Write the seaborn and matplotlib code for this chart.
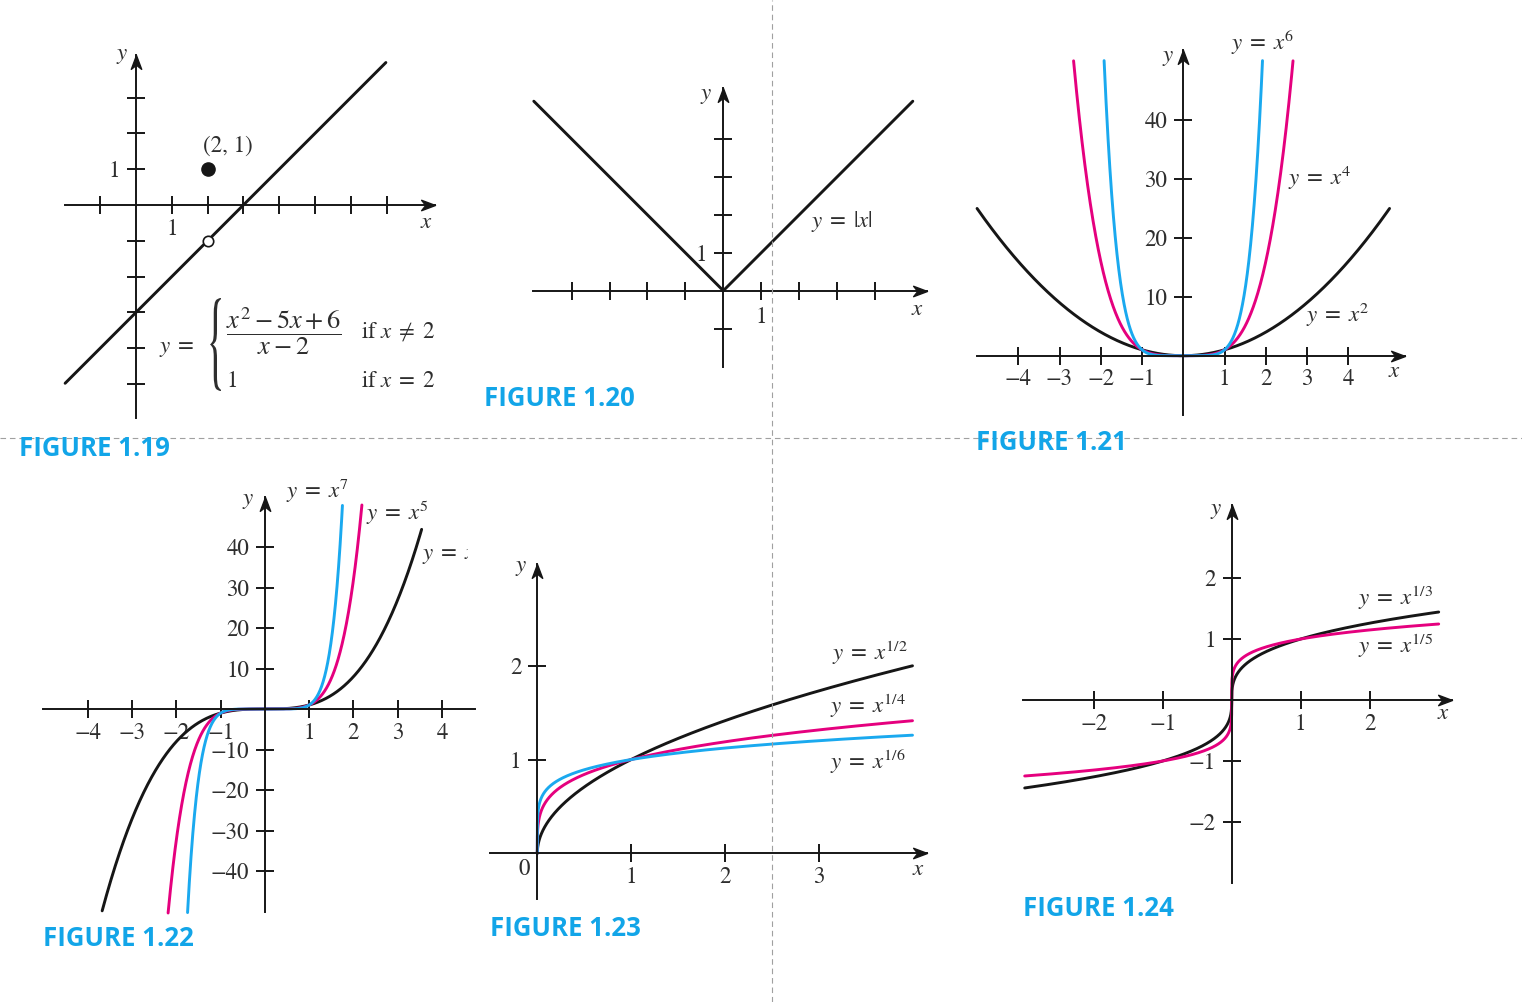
import matplotlib
matplotlib.use("Agg")
import matplotlib.pyplot as plt
import seaborn as sns
import numpy as np
from matplotlib.path import Path
from matplotlib.patches import PathPatch, Rectangle
from matplotlib.textpath import TextPath
from matplotlib.font_manager import FontProperties
from matplotlib.transforms import Affine2D
from matplotlib.lines import Line2D

W, H = 1522, 1002

BLACK   = "#161616"
MAGENTA = "#e5007e"
CYAN    = "#1aa9ef"
CAPTION = "#12a5e8"
TEXT    = "#2e2e2e"
GRID    = "#a0a0a0"

# ---- data ----
# Fig 1.19 : line y = x - 3 (hole at x = 2), isolated point (2, 1)
LINE119_X = [-1.98, 6.98]
LINE119_Y = [-4.98, 3.98]
HOLE119   = [2, -1]
DOT119    = [2, 1]
TICKS119_X = [-1, 1, 2, 3, 4, 5, 6, 7]
TICKS119_Y = [-5, -4, -3, -2, -1, 1, 2, 3]

# Fig 1.20 : y = |x|
ABS_X = [-5, 0, 5]
ABS_Y = [5, 0, 5]
TICKS120_X = [-4, -3, -2, -1, 1, 2, 3, 4]
TICKS120_Y = [-1, 1, 2, 3, 4]

# Fig 1.21 : even powers, symmetric domain (clipped at y = 50)
EVEN_POW   = [2, 4, 6]
EVEN_XMAX  = [5.0, 2.66, 1.92]
EVEN_COL   = [BLACK, MAGENTA, CYAN]
TICKS121_X = [-4, -3, -2, -1, 1, 2, 3, 4]
TICKS121_Y = [10, 20, 30, 40]

# Fig 1.22 : odd powers
ODD_POW    = [3, 5, 7]
ODD_XMIN   = [-3.68, -2.19, -1.75]
ODD_XMAX   = [3.54, 2.19, 1.75]
ODD_COL    = [BLACK, MAGENTA, CYAN]
TICKS122_X = [-4, -3, -2, -1, 1, 2, 3, 4]
TICKS122_Y = [-40, -30, -20, -10, 10, 20, 30, 40]

# Fig 1.23 : even roots on [0, 4]
ROOT123     = [2, 4, 6]
ROOT123_COL = [BLACK, MAGENTA, CYAN]
ROOT123_DOM = [0, 4]
TICKS123_X  = [1, 2, 3]
TICKS123_Y  = [1, 2]

# Fig 1.24 : odd roots on [-3, 3]
ROOT124     = [3, 5]
ROOT124_COL = [BLACK, MAGENTA]
ROOT124_DOM = [-3, 3]
TICKS124_X  = [-2, -1, 1, 2]
TICKS124_Y  = [-2, -1, 1, 2]

FS = 16.5   # serif text size


def lab(v):
    return str(v).replace("-", "\u2212")


sns.set_style("white")
plt.rcParams["font.family"] = ["STIXGeneral", "DejaVu Serif"]
plt.rcParams["mathtext.fontset"] = "stix"

fig = plt.figure(figsize=(W / 100, H / 100), dpi=100)

ARROW_R = Path([(0, 0), (-2, -0.75), (-1.4, 0), (-2, 0.75), (0, 0)],
               [Path.MOVETO, Path.LINETO, Path.LINETO, Path.LINETO, Path.CLOSEPOLY])
ARROW_U = Path([(0, 0), (-0.75, -2), (0, -1.4), (0.75, -2), (0, 0)],
               [Path.MOVETO, Path.LINETO, Path.LINETO, Path.LINETO, Path.CLOSEPOLY])


def panel(ox, oy, sx, sy, xlim, ylim):
    # ox, oy : pixel position of the origin, sx, sy : pixels per unit
    left = ox + xlim[0] * sx
    right = ox + xlim[1] * sx
    top = oy - ylim[1] * sy
    bottom = oy - ylim[0] * sy
    ax = fig.add_axes([left / W, 1 - bottom / H, (right - left) / W, (bottom - top) / H])
    ax.patch.set_visible(False)
    return ax


def style_axes(ax, xlim, ylim, xt, xl, yt, yl, arrow_x=True, arrow_y=True,
               xpad=3, ypad=5):
    ax.set_xlim(*xlim)
    ax.set_ylim(*ylim)
    for s in ["top", "right"]:
        ax.spines[s].set_visible(False)
    for s in ["left", "bottom"]:
        ax.spines[s].set_position(("data", 0))
        ax.spines[s].set_linewidth(1.4)
        ax.spines[s].set_color(BLACK)
    ax.set_xticks(xt, xl)
    ax.set_yticks(yt, yl)
    ax.tick_params(bottom=True, left=True, direction="inout", length=13, width=1.4,
                   color=BLACK, labelcolor=TEXT, labelsize=FS)
    ax.tick_params(axis="x", pad=xpad)
    ax.tick_params(axis="y", pad=ypad)
    if arrow_x:
        ax.plot([xlim[1]], [0], marker=ARROW_R, ms=20, color=BLACK, lw=0, clip_on=False)
    if arrow_y:
        ax.plot([0], [ylim[1]], marker=ARROW_U, ms=20, color=BLACK, lw=0, clip_on=False)


def ftext(X, Y, s, size=FS, ha="left", va="center", **kw):
    return fig.text(X / W, 1 - Y / H, s, size=size, ha=ha, va=va, color=TEXT, **kw)


def caption(X, Y, s):
    fig.text(X / W, 1 - Y / H, s, size=18.5, ha="left", va="center", color=CAPTION,
             family=["Open Sans", "DejaVu Sans"], weight="bold")


LW = 2.1

# ---------------- FIGURE 1.19 ----------------
xl, yl = (-1.98, 8.35), (-5.95, 4.19)
ax = panel(136, 205, 35.8, 35.8, xl, yl)
sns.lineplot(x=LINE119_X, y=LINE119_Y, ax=ax, color=BLACK, lw=LW, clip_on=False)
ax.plot([HOLE119[0]], [HOLE119[1]], "o", ms=7.5, mfc="white", mec=BLACK, mew=1.2, zorder=5)
ax.plot([DOT119[0]], [DOT119[1]], "o", ms=9.5, color=BLACK, zorder=5)
style_axes(ax, xl, yl, TICKS119_X, ["" if t != 1 else "1" for t in TICKS119_X],
           TICKS119_Y, ["" if t != 1 else "1" for t in TICKS119_Y])
ftext(122, 55, r"$y$", ha="center")
ftext(426, 222, r"$x$", ha="center")
ftext(228, 146, "(2, 1)", ha="center")
ftext(177, 348, r"$y\;=$", ha="center")
ftext(284, 331, r"$\dfrac{x^2 - 5x + 6}{x - 2}$", size=19, ha="center")
ftext(226, 381, "1")
ftext(361, 332, r"if $x\;\neq\;2$")
ftext(361, 381, r"if $x\;=\;2$")
tp = TextPath((0, 0), "{", size=1, prop=FontProperties(family="STIXGeneral"))
ext = tp.get_extents()
bx0, bx1, by0, by1 = 210, 221, 298, 391
tr = (Affine2D().translate(-ext.x0, -ext.y0)
      .scale((bx1 - bx0) / W / ext.width, (by1 - by0) / H / ext.height)
      .translate(bx0 / W, 1 - by1 / H) + fig.transFigure)
fig.add_artist(PathPatch(tp, transform=tr, color=TEXT, lw=0))
caption(19, 448, "FIGURE 1.19")

# ---------------- FIGURE 1.20 ----------------
xl, yl = (-5.01, 5.37), (-2.0, 5.34)
ax = panel(723.3, 290.7, 37.9, 37.9, xl, yl)
sns.lineplot(x=ABS_X, y=ABS_Y, ax=ax, color=BLACK, lw=LW, clip_on=False)
style_axes(ax, xl, yl, TICKS120_X, ["" if t != 1 else "1" for t in TICKS120_X],
           TICKS120_Y, ["" if t != 1 else "1" for t in TICKS120_Y], xpad=5)
ftext(706, 95, r"$y$", ha="center")
ftext(917, 309, r"$x$", ha="center")
ftext(811, 222, r"$y\;=\;|x|$")
caption(484, 398, "FIGURE 1.20")

# ---------------- FIGURE 1.21 ----------------
xl, yl = (-5.01, 5.37), (-10.07, 51.9)
ax = panel(1183.3, 355.7, 41.25, 5.89, xl, yl)
for p, xm, c in zip(EVEN_POW, EVEN_XMAX, EVEN_COL):
    xs = np.linspace(-xm, xm, 801)
    sns.lineplot(x=xs, y=xs ** p, ax=ax, color=c, lw=LW, clip_on=False, sort=False)
style_axes(ax, xl, yl, TICKS121_X, [lab(t) for t in TICKS121_X],
           TICKS121_Y, [lab(t) for t in TICKS121_Y])
ftext(1168, 57, r"$y$", ha="center")
ftext(1394, 371, r"$x$", ha="center")
ftext(1231, 42, r"$y\;=\;x^6$")
ftext(1288, 178, r"$y\;=\;x^4$")
ftext(1306, 315, r"$y\;=\;x^2$")
caption(976, 443, "FIGURE 1.21")

# ---------------- FIGURE 1.22 ----------------
xl, yl = (-5.01, 4.75), (-50.0, 52.3)
ax = panel(265, 709, 44.25, 4.05, xl, yl)
for p, x0, x1, c in zip(ODD_POW, ODD_XMIN, ODD_XMAX, ODD_COL):
    xs = np.linspace(x0, x1, 801)
    sns.lineplot(x=xs, y=xs ** p, ax=ax, color=c, lw=LW, clip_on=False, sort=False)
style_axes(ax, xl, yl, TICKS122_X, [lab(t) for t in TICKS122_X],
           TICKS122_Y, [lab(t) for t in TICKS122_Y], arrow_x=False)
ftext(248, 500, r"$y$", ha="center")
ftext(286, 491, r"$y\;=\;x^7$")
ftext(366, 513, r"$y\;=\;x^5$")
# the source image is cropped through this label
cut = ftext(422, 553, r"$y\;=\;x^3$")
cut.set_clip_path(Rectangle((400 / W, 1 - 580 / H), 68 / W, 50 / H,
                            transform=fig.transFigure))
caption(43, 938, "FIGURE 1.22")

# ---------------- FIGURE 1.23 ----------------
xl, yl = (-0.5, 4.15), (-0.49, 3.09)
ax = panel(537.3, 853.3, 93.8, 93.75, xl, yl)
for n, c in zip(ROOT123, ROOT123_COL):
    xs = ROOT123_DOM[0] + (ROOT123_DOM[1] - ROOT123_DOM[0]) * np.linspace(0, 1, 1201) ** 4
    sns.lineplot(x=xs, y=xs ** (1 / n), ax=ax, color=c, lw=LW, clip_on=False, sort=False)
style_axes(ax, xl, yl, TICKS123_X, [lab(t) for t in TICKS123_X],
           TICKS123_Y, [lab(t) for t in TICKS123_Y])
ftext(521, 567, r"$y$", ha="center")
ftext(918, 869, r"$x$", ha="center")
ftext(524, 869, "0", ha="center")
ftext(832, 653, r"$y\;=\;x^{1/2}$")
ftext(830, 706, r"$y\;=\;x^{1/4}$")
ftext(830, 761, r"$y\;=\;x^{1/6}$")
caption(490, 928, "FIGURE 1.23")

# ---------------- FIGURE 1.24 ----------------
xl, yl = (-3.02, 3.19), (-3.0, 3.2)
ax = panel(1231.7, 700, 69, 61, xl, yl)
for n, c in zip(ROOT124, ROOT124_COL):
    t = np.linspace(-1, 1, 1601)
    xs = ROOT124_DOM[1] * np.sign(t) * np.abs(t) ** 4
    sns.lineplot(x=xs, y=np.sign(xs) * np.abs(xs) ** (1 / n), ax=ax, color=c, lw=LW,
                 clip_on=False, sort=False)
style_axes(ax, xl, yl, TICKS124_X, [lab(t) for t in TICKS124_X],
           TICKS124_Y, [lab(t) for t in TICKS124_Y])
ftext(1216, 510, r"$y$", ha="center")
ftext(1443, 713, r"$x$", ha="center")
ftext(1358, 598, r"$y\;=\;x^{1/3}$")
ftext(1358, 646, r"$y\;=\;x^{1/5}$")
caption(1023, 908, "FIGURE 1.24")

# dashed separators
fig.add_artist(Line2D([0, 1], [1 - 438 / H] * 2, transform=fig.transFigure,
                      color=GRID, lw=0.8, ls=(0, (5, 3.5))))
fig.add_artist(Line2D([772 / W] * 2, [0, 1], transform=fig.transFigure,
                      color=GRID, lw=0.8, ls=(0, (5, 3.5))))

fig.savefig("out.png", dpi=100, facecolor="white")
